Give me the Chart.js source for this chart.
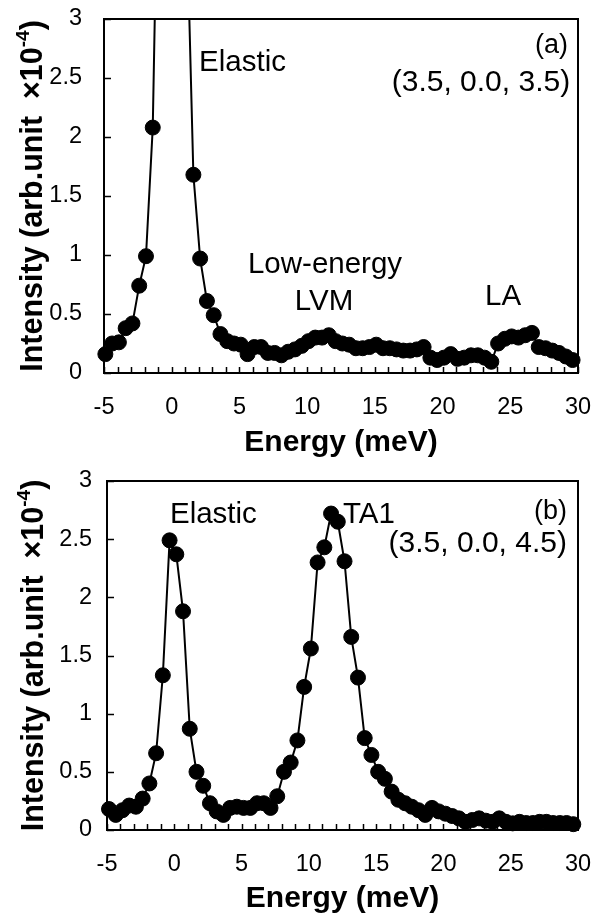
<!DOCTYPE html>
<html>
<head>
<meta charset="utf-8">
<script src="https://cdn.jsdelivr.net/npm/chart.js@4.4.1/dist/chart.umd.min.js"></script>
<style>
  body { margin: 0; background: #fff; }
  canvas { display: block; }
</style>
</head>
<body>
<canvas id="chartA" width="602" height="458"></canvas>
<canvas id="chartB" width="602" height="458"></canvas>
<script>
// panel (a) (3.5, 0.0, 3.5)
const energyA = [-4.9, -4.4, -3.9, -3.4, -2.9, -2.4, -1.9, -1.4, -0.9, -0.4,
  0.1, 0.6, 1.1, 1.6, 2.1, 2.6, 3.1, 3.6, 4.1, 4.6,
  5.1, 5.6, 6.1, 6.6, 7.1, 7.6, 8.1, 8.6, 9.1, 9.6,
  10.1, 10.6, 11.1, 11.6, 12.1, 12.6, 13.1, 13.6, 14.1, 14.6,
  15.1, 15.6, 16.1, 16.6, 17.1, 17.6, 18.1, 18.6, 19.1, 19.6,
  20.1, 20.6, 21.1, 21.6, 22.1, 22.6, 23.1, 23.6, 24.1, 24.6,
  25.1, 25.6, 26.1, 26.6, 27.1, 27.6, 28.1, 28.6, 29.1, 29.6];
const intensityA = [0.16, 0.25, 0.26, 0.38, 0.42, 0.74, 0.99, 2.08, 5.2, 12,
  14, 9, 3.9, 1.68, 0.97, 0.61, 0.49, 0.33, 0.27, 0.25,
  0.24, 0.16, 0.22, 0.22, 0.17, 0.17, 0.15, 0.18, 0.2, 0.23,
  0.27, 0.30, 0.30, 0.32, 0.27, 0.25, 0.24, 0.21, 0.21, 0.22,
  0.24, 0.21, 0.21, 0.2, 0.19, 0.19, 0.2, 0.22, 0.13, 0.11,
  0.13, 0.16, 0.12, 0.13, 0.15, 0.15, 0.13, 0.095, 0.25, 0.29,
  0.31, 0.30, 0.32, 0.34, 0.22, 0.21, 0.19, 0.17, 0.14, 0.11];

// panel (b) (3.5, 0.0, 4.5)
const energyB = [-4.85, -4.35, -3.85, -3.35, -2.85, -2.35, -1.85, -1.35, -0.85, -0.35,
  0.15, 0.65, 1.15, 1.65, 2.15, 2.65, 3.15, 3.65, 4.15, 4.65,
  5.15, 5.65, 6.15, 6.65, 7.15, 7.65, 8.15, 8.65, 9.15, 9.65,
  10.15, 10.65, 11.15, 11.65, 12.15, 12.65, 13.15, 13.65, 14.15, 14.65,
  15.15, 15.65, 16.15, 16.65, 17.15, 17.65, 18.15, 18.65, 19.15, 19.65,
  20.15, 20.65, 21.15, 21.65, 22.15, 22.65, 23.15, 23.65, 24.15, 24.65,
  25.15, 25.65, 26.15, 26.65, 27.15, 27.65, 28.15, 28.65, 29.15, 29.65];
const intensityB = [0.18, 0.13, 0.17, 0.21, 0.20, 0.27, 0.40, 0.66, 1.33, 2.49,
  2.37, 1.88, 0.87, 0.50, 0.38, 0.23, 0.16, 0.13, 0.19, 0.20,
  0.19, 0.19, 0.23, 0.23, 0.19, 0.29, 0.50, 0.58, 0.77, 1.23,
  1.56, 2.30, 2.43, 2.72, 2.65, 2.31, 1.66, 1.31, 0.79, 0.645,
  0.50, 0.44, 0.33, 0.26, 0.23, 0.20, 0.17, 0.13, 0.19, 0.16,
  0.14, 0.12, 0.10, 0.07, 0.086, 0.10, 0.08, 0.07, 0.10, 0.07,
  0.057, 0.07, 0.06, 0.06, 0.07, 0.07, 0.06, 0.06, 0.06, 0.05];

const xTickLabels = [-5, 0, 5, 10, 15, 20, 25, 30];
const yTickLabels = [0, 0.5, 1, 1.5, 2, 2.5, 3];

const FONT = '"Liberation Sans", Arial, sans-serif';

// inner ticks, frame, y title and the text notes
const decorPlugin = {
  id: 'decor',
  beforeDatasetsDraw(chart) {
    const { ctx, chartArea: a, scales } = chart;
    ctx.save();
    ctx.strokeStyle = '#000';
    ctx.lineWidth = 1.5;
    ctx.beginPath();
    scales.x.ticks.forEach(t => {
      const px = Math.round(scales.x.getPixelForValue(t.value)) + 0.5;
      ctx.moveTo(px, a.bottom);
      ctx.lineTo(px, a.bottom - 6);
    });
    scales.y.ticks.forEach(t => {
      const py = Math.round(scales.y.getPixelForValue(t.value)) + 0.5;
      ctx.moveTo(a.left, py);
      ctx.lineTo(a.left + 7, py);
    });
    ctx.stroke();
    ctx.lineWidth = 2;
    ctx.strokeRect(a.left, a.top, a.right - a.left, a.bottom - a.top);
    ctx.restore();
  },
  afterDraw(chart, args, opts) {
    const { ctx, chartArea: a, scales } = chart;
    ctx.save();
    ctx.fillStyle = '#000';

    // y title with superscript
    const big = 'bold 30.5px ' + FONT;
    const small = 'bold 19px ' + FONT;
    const part1 = 'Intensity (arb.unit  \u00d710';
    const sup = '-4';
    const part2 = ')';
    ctx.font = big;
    const w1 = ctx.measureText(part1).width;
    const w3 = ctx.measureText(part2).width;
    ctx.font = small;
    const w2 = ctx.measureText(sup).width;
    const total = w1 + w2 + w3;
    ctx.translate(opts.titleX, (a.top + a.bottom) / 2);
    ctx.rotate(-Math.PI / 2);
    ctx.textBaseline = 'alphabetic';
    ctx.textAlign = 'left';
    let x = -total / 2;
    ctx.font = big;
    ctx.fillText(part1, x, 0);
    x += w1;
    ctx.font = small;
    ctx.fillText(sup, x, -13);
    x += w2;
    ctx.font = big;
    ctx.fillText(part2, x, 0);
    ctx.restore();

    ctx.save();
    ctx.fillStyle = '#000';
    ctx.textBaseline = 'alphabetic';
    opts.notes.forEach(n => {
      ctx.font = n.size + 'px ' + FONT;
      ctx.textAlign = n.align;
      ctx.fillText(n.text, scales.x.getPixelForValue(n.e), scales.y.getPixelForValue(n.i));
    });
    ctx.restore();
  }
};

function makeChart(id, energy, intensity, cfg) {
  const points = energy.map((e, i) => ({ x: e, y: intensity[i] }));
  return new Chart(document.getElementById(id), {
    type: 'line',
    data: {
      datasets: [{
        data: points,
        borderColor: '#000',
        backgroundColor: '#000',
        borderWidth: 2,
        pointRadius: 7.5,
        pointBorderWidth: 1,
        pointBackgroundColor: '#000',
        pointBorderColor: '#000',
        tension: 0,
        clip: { left: 12, right: 12, top: 0, bottom: 12 }
      }]
    },
    options: {
      responsive: false,
      animation: false,
      devicePixelRatio: 1,
      layout: { padding: { top: cfg.padTop, right: 24, bottom: 0, left: 0 } },
      plugins: {
        legend: { display: false },
        tooltip: { enabled: false },
        decor: { titleX: cfg.titleX, notes: cfg.notes }
      },
      scales: {
        x: {
          type: 'linear',
          min: -5,
          max: 30,
          afterFit: s => {
            s.height = cfg.xHeight;
            s.paddingLeft = 0;
            s.paddingRight = 0;
          },
          grid: { display: false, drawTicks: false },
          border: { display: false },
          ticks: {
            stepSize: 1,
            autoSkip: false,
            maxRotation: 0,
            padding: 20,
            color: '#000',
            font: { family: FONT, size: 23.5 },
            callback: v => xTickLabels.includes(v) ? String(v) : ''
          },
          title: {
            display: true,
            text: 'Energy (meV)',
            color: '#000',
            font: { family: FONT, size: 30, weight: 'bold', lineHeight: 1 },
            padding: { top: 0, bottom: cfg.xTitlePad }
          }
        },
        y: {
          min: 0,
          max: 3,
          afterFit: s => {
            s.width = cfg.yWidth;
            s.paddingTop = 0;
            s.paddingBottom = 0;
          },
          grid: { display: false, drawTicks: false },
          border: { display: false },
          ticks: {
            stepSize: 0.5,
            padding: cfg.yTickPad,
            color: '#000',
            font: { family: FONT, size: 23.5 },
            callback: v => yTickLabels.includes(v) ? String(v) : ''
          }
        }
      }
    },
    plugins: [decorPlugin]
  });
}

makeChart('chartA', energyA, intensityA, {
  padTop: 19, yWidth: 104, xHeight: 85, yTickPad: 22, titleX: 42, xTitlePad: 0,
  notes: [
    { text: 'Elastic', e: 2.02, i: 2.56, align: 'left', size: 29.5 },
    { text: '(a)', e: 29.27, i: 2.71, align: 'right', size: 27 },
    { text: '(3.5, 0.0, 3.5)', e: 29.42, i: 2.39, align: 'right', size: 30 },
    { text: 'Low-energy', e: 11.32, i: 0.85, align: 'center', size: 29.5 },
    { text: 'LVM', e: 11.25, i: 0.53, align: 'center', size: 29.5 },
    { text: 'LA', e: 24.47, i: 0.58, align: 'center', size: 29.5 }
  ]
});

makeChart('chartB', energyB, intensityB, {
  padTop: 23, yWidth: 107, xHeight: 86, yTickPad: 15, titleX: 43, xTitlePad: 2,
  notes: [
    { text: 'Elastic', e: -0.32, i: 2.64, align: 'left', size: 29.5 },
    { text: 'TA1', e: 12.53, i: 2.64, align: 'left', size: 29.5 },
    { text: '(b)', e: 29.18, i: 2.67, align: 'right', size: 27 },
    { text: '(3.5, 0.0, 4.5)', e: 29.18, i: 2.39, align: 'right', size: 30 }
  ]
});
</script>
</body>
</html>
